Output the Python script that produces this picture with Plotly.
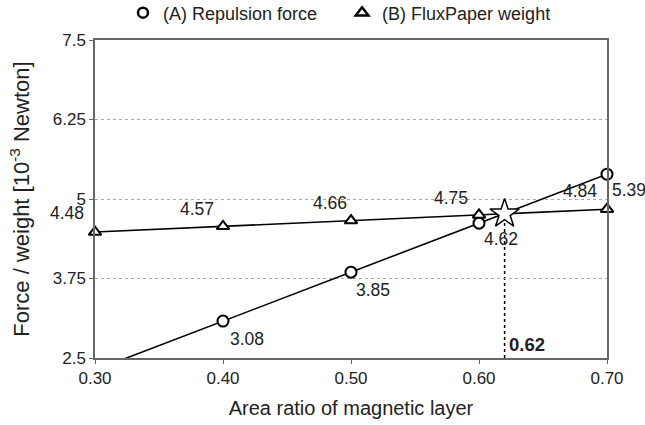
import plotly.graph_objects as go

area_ratio = [0.30, 0.40, 0.50, 0.60, 0.70]
repulsion = [2.31, 3.08, 3.85, 4.62, 5.39]
weight = [4.48, 4.57, 4.66, 4.75, 4.84]
crossing_x = 0.62
y_ticks = [2.5, 3.75, 5, 6.25, 7.5]
x_ticks = [0.30, 0.40, 0.50, 0.60, 0.70]

# y at crossing derived from weight series (linear interpolation)
i = 3
crossing_y = weight[i] + (weight[i + 1] - weight[i]) * (crossing_x - area_ratio[i]) / (area_ratio[i + 1] - area_ratio[i])

FONT = "Liberation Sans, Arial, sans-serif"
TXT = "#222"
ymin, ymax = y_ticks[0], y_ticks[-1]

fig = go.Figure()
for vals, sym in [(repulsion, "circle"), (weight, "triangle-up")]:
    fig.add_trace(go.Scatter(
        x=area_ratio, y=vals, mode="lines", showlegend=False, hoverinfo="skip",
        line=dict(color="black", width=1.6),
    ))
    vis = [(xv, yv) for xv, yv in zip(area_ratio, vals) if ymin <= yv <= ymax]
    fig.add_trace(go.Scatter(
        x=[p[0] for p in vis], y=[p[1] for p in vis], mode="markers", showlegend=False,
        cliponaxis=False,
        marker=dict(symbol=sym, size=11, color="white", line=dict(color="black", width=2)),
    ))
# legend entries (markers only)
fig.add_trace(go.Scatter(
    x=[None], y=[None], mode="markers", name="(A) Repulsion force&nbsp;&nbsp;&nbsp;&nbsp;",
    marker=dict(symbol="circle", size=10, color="white", line=dict(color="black", width=2.5)),
))
fig.add_trace(go.Scatter(
    x=[None], y=[None], mode="markers", name="(B) FluxPaper weight",
    marker=dict(symbol="triangle-up", size=11, color="white", line=dict(color="black", width=2.5)),
))
# dotted drop line
fig.add_shape(type="line", xref="x", yref="y", x0=crossing_x, x1=crossing_x,
              y0=ymin, y1=crossing_y, line=dict(color="black", width=1.5, dash="dot"), layer="below")
fig.add_trace(go.Scatter(
    x=[crossing_x], y=[crossing_y], mode="markers", showlegend=False,
    marker=dict(symbol="star", size=22, color="white", line=dict(color="black", width=1.5)),
))

LBL = 17.5
ann = []
w_shift = [(-28, 19), (-26, 17), (-21, 18), (-28, 17), (-27, 18)]
for xv, yv, (dx, dy) in zip(area_ratio, weight, w_shift):
    ann.append(dict(x=xv, y=yv, text=f"{yv:.2f}", showarrow=False, xshift=dx, yshift=dy,
                    font=dict(size=LBL, color=TXT, family=FONT)))
r_shift = [None, (24, -18), (22, -18), (22, -16), (22, -16)]
for xv, yv, s in zip(area_ratio, repulsion, r_shift):
    if s is None:
        continue
    ann.append(dict(x=xv, y=yv, text=f"{yv:.2f}", showarrow=False, xshift=s[0], yshift=s[1],
                    font=dict(size=LBL, color=TXT, family=FONT)))
ann.append(dict(x=crossing_x, y=ymin, text=f"<b>{crossing_x:.2f}</b>", showarrow=False,
                xanchor="left", yanchor="bottom", xshift=2, yshift=1,
                font=dict(size=18.5, color=TXT, family=FONT)))

fig.update_layout(
    width=645, height=425,
    margin=dict(l=95, r=38, t=40, b=67, autoexpand=False),
    paper_bgcolor="white", plot_bgcolor="white",
    font=dict(family=FONT, color=TXT),
    annotations=ann,
    legend=dict(orientation="h", xref="container", x=123 / 645, xanchor="left",
                yref="container", y=1 - 13 / 425, yanchor="middle",
                font=dict(size=18, family=FONT, color=TXT),
                itemwidth=30, bgcolor="rgba(0,0,0,0)"),
    xaxis=dict(range=[0.30, 0.70], tickvals=x_ticks, ticktext=[f"{v:.2f}" for v in x_ticks],
               showgrid=False, zeroline=False, showline=True, linecolor="#666", linewidth=1.5,
               mirror=True, ticks="outside", ticklen=4, tickcolor="#666",
               tickfont=dict(size=17, family=FONT, color=TXT),
               title=dict(text="Area ratio of magnetic layer", font=dict(size=20, family=FONT, color=TXT),
                          standoff=14)),
    yaxis=dict(range=[ymin, ymax], tickvals=y_ticks, ticktext=[str(v) for v in y_ticks],
               showgrid=True, gridcolor="#aaa", griddash="dot", gridwidth=1,
               zeroline=False, showline=True, linecolor="#666", linewidth=1.5, mirror=True,
               ticks="outside", ticklen=4, tickcolor="#666",
               tickfont=dict(size=17, family=FONT, color=TXT),
               title=dict(text="Force / weight [10<sup>-3</sup> Newton]", font=dict(size=22, family=FONT, color=TXT),
                          standoff=17)),
)
fig.write_html("out.html", config={"displayModeBar": False},
               post_script="document.body.style.margin='0px';")
